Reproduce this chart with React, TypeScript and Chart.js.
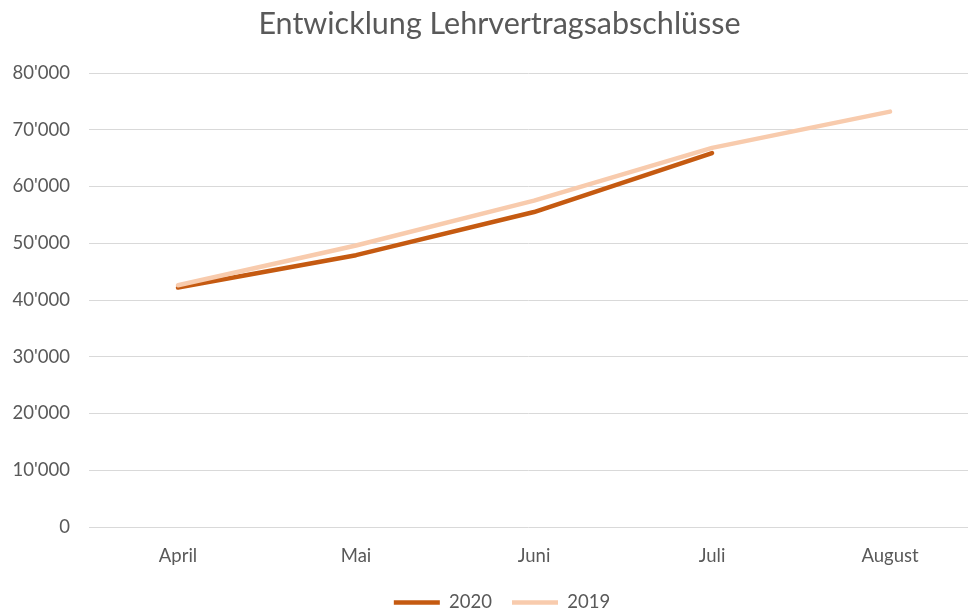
import { useEffect, useRef } from "react";
import { Chart, registerables } from "chart.js";

Chart.register(...registerables);

const categories = ["April", "Mai", "Juni", "Juli", "August"];
const seriesNames = ["2020", "2019"];
const values2020: (number | null)[] = [42200, 47900, 55500, 65900, null];
const values2019: (number | null)[] = [42600, 49600, 57500, 66800, 73200];
const yMin = 0;
const yMax = 80000;
const yStep = 10000;
const titleText = "Entwicklung Lehrvertragsabschlüsse";

const COLOR_2020 = "#C55A11";
const COLOR_2019 = "#F8CBAD";
const TEXT = "#595959";
const GRID = "#D9D9D9";
const FONT = "Lato, 'Open Sans', sans-serif";

const fmt = (v: number) => String(v).replace(/\B(?=(\d{3})+(?!\d))/g, "'");

// nudge the legend and title boxes to where the reference centres them
const boxShift = {
  id: "boxShift",
  afterLayout(chart: any) {
    const lg = chart.legend;
    if (lg) {
      lg.left += 18;
      lg.right += 18;
      lg.top += 5.75;
      lg.bottom += 5.75;
    }
    const tb = chart.titleBlock;
    if (tb) {
      tb.left += 15.5;
      tb.right += 15.5;
    }
  },
};

export default function App() {
  const ref = useRef<HTMLCanvasElement>(null);
  useEffect(() => {
    const toPts = (arr: (number | null)[]) => arr.map((v, i) => ({ x: i, y: v }));
    const chart = new Chart(ref.current!, {
      type: "line",
      data: {
        datasets: [
          {
            label: seriesNames[0],
            data: toPts(values2020) as any,
            borderColor: COLOR_2020,
            backgroundColor: COLOR_2020,
            borderWidth: 4.5,
            borderCapStyle: "round",
            borderJoinStyle: "round",
            pointRadius: 0,
            tension: 0,
            order: 1,
          },
          {
            label: seriesNames[1],
            data: toPts(values2019) as any,
            borderColor: COLOR_2019,
            backgroundColor: COLOR_2019,
            borderWidth: 4.5,
            borderCapStyle: "round",
            borderJoinStyle: "round",
            pointRadius: 0,
            tension: 0,
            order: 0,
          },
        ],
      },
      options: {
        responsive: false,
        animation: false,
        layout: { padding: 0 },
        plugins: {
          title: {
            display: true,
            text: titleText,
            color: TEXT,
            font: { family: FONT, size: 30.5, weight: "normal" },
            padding: { top: 6, bottom: 30.4 },
          },
          legend: {
            position: "bottom",
            labels: {
              usePointStyle: true,
              pointStyle: "line",
              pointStyleWidth: 46,
              padding: 20,
              color: TEXT,
              font: { family: FONT, size: 18.5 },
              sort: (a: any, b: any) => a.datasetIndex - b.datasetIndex,
            },
          },
          tooltip: { enabled: false },
        },
        scales: {
          x: {
            type: "linear",
            min: -0.5,
            max: 4.438,
            grid: { display: false },
            border: { display: false },
            afterBuildTicks: (axis: any) => {
              axis.ticks = categories.map((_, i) => ({ value: i }));
            },
            afterFit: (axis: any) => {
              axis.height = 40.5;
            },
            ticks: {
              autoSkip: false,
              maxRotation: 0,
              padding: 10,
              color: TEXT,
              font: { family: FONT, size: 18.5 },
              callback: (v: any) => categories[Math.round(Number(v))] ?? "",
            },
          },
          y: {
            min: yMin,
            max: yMax,
            grid: { color: GRID, lineWidth: 1, drawTicks: false },
            border: { display: false },
            afterFit: (axis: any) => {
              axis.width = 89;
            },
            ticks: {
              stepSize: yStep,
              padding: 19,
              color: TEXT,
              font: { family: FONT, size: 18.5 },
              callback: (v: any) => fmt(Number(v)),
            },
          },
        },
      },
      plugins: [boxShift],
    });
    return () => chart.destroy();
  }, []);
  return (
    <div style={{ position: "absolute", left: 0, top: 0, width: 968, height: 616 }}>
      <canvas ref={ref} width={968} height={616} style={{ display: "block" }} />
    </div>
  );
}
